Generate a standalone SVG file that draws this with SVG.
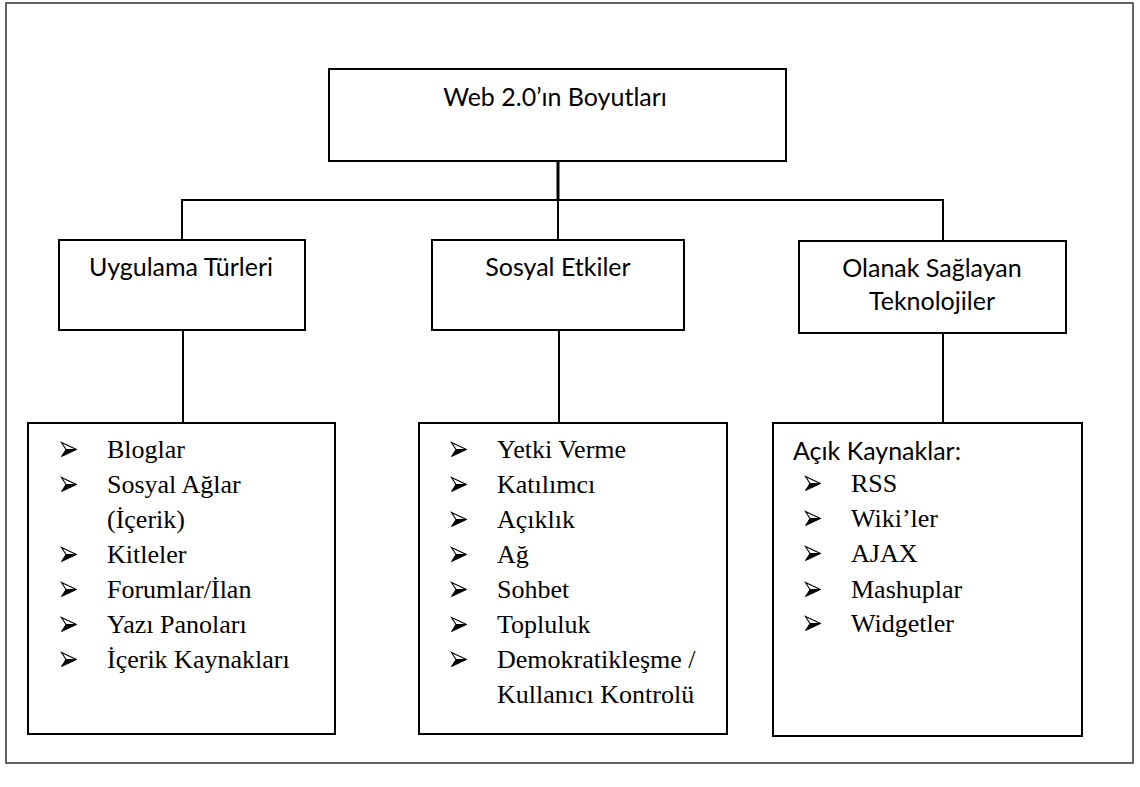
<svg xmlns="http://www.w3.org/2000/svg" width="1140" height="787" viewBox="0 0 1140 787">
<style>
.box{fill:#fff;stroke:#000;stroke-width:2}
.frame{fill:#fff;stroke:#333;stroke-width:1.5}
.conn{stroke:#000;stroke-width:2;fill:none}
.cal{font-family:Lato,"Open Sans","Liberation Sans",sans-serif;font-size:25px;fill:#000}
.tnr{font-family:"Liberation Serif","Times New Roman",serif;font-size:26px;fill:#000}
</style>
<defs>
<symbol id="bullet" viewBox="0 0 16 15" width="16" height="15" overflow="visible">
<polygon points="0.5,0.5 15.5,7.5 5,7.5" fill="#fff" stroke="#000" stroke-width="1.1" stroke-linejoin="miter"/>
<polygon points="5,7.5 15.5,7.5 0.5,14.5" fill="#000" stroke="#000" stroke-width="1"/>
</symbol>
</defs>
<rect class="frame" x="6" y="3" width="1127" height="760"/>
<g id="connectors">
<line class="conn" x1="558" y1="161" x2="558" y2="201" style="stroke-width:3"/>
<polyline class="conn" points="182,240 182,200 943,200 943,241"/>
<line class="conn" x1="558" y1="200" x2="558" y2="240"/>
<line class="conn" x1="183" y1="330" x2="183" y2="423"/>
<line class="conn" x1="559" y1="330" x2="559" y2="423"/>
<line class="conn" x1="943" y1="333" x2="943" y2="423"/>
</g>
<g id="root">
<rect class="box" x="329" y="69" width="457" height="92"/>
<text class="cal" x="555" y="106" text-anchor="middle">Web 2.0’ın Boyutları</text>
</g>
<g id="uygulama">
<rect class="box" x="59" y="240" width="246" height="90"/>
<text class="cal" x="181" y="276" text-anchor="middle">Uygulama Türleri</text>
</g>
<g id="sosyal">
<rect class="box" x="432" y="240" width="252" height="90"/>
<text class="cal" x="558" y="276" text-anchor="middle">Sosyal Etkiler</text>
</g>
<g id="olanak">
<rect class="box" x="799" y="241" width="267" height="92"/>
<text class="cal" x="932" y="277" text-anchor="middle">Olanak Sağlayan</text>
<text class="cal" x="932" y="310" text-anchor="middle">Teknolojiler</text>
</g>
<g id="list-uygulama">
<rect class="box" x="28" y="423" width="307" height="311"/>
<use href="#bullet" x="61" y="442"/><use href="#bullet" x="61" y="477"/><use href="#bullet" x="61" y="547"/><use href="#bullet" x="61" y="582"/><use href="#bullet" x="61" y="617"/><use href="#bullet" x="61" y="652"/>
<text class="tnr" x="107" y="458">Bloglar</text>
<text class="tnr" x="107" y="493">Sosyal Ağlar</text>
<text class="tnr" x="107" y="528">(İçerik)</text>
<text class="tnr" x="107" y="563">Kitleler</text>
<text class="tnr" x="107" y="598">Forumlar/İlan</text>
<text class="tnr" x="107" y="633">Yazı Panoları</text>
<text class="tnr" x="107" y="668">İçerik Kaynakları</text>
</g>
<g id="list-sosyal">
<rect class="box" x="419" y="423" width="308" height="311"/>
<use href="#bullet" x="451" y="442"/><use href="#bullet" x="451" y="477"/><use href="#bullet" x="451" y="512"/><use href="#bullet" x="451" y="547"/><use href="#bullet" x="451" y="582"/><use href="#bullet" x="451" y="617"/><use href="#bullet" x="451" y="652"/>
<text class="tnr" x="497" y="458">Yetki Verme</text>
<text class="tnr" x="497" y="493">Katılımcı</text>
<text class="tnr" x="497" y="528">Açıklık</text>
<text class="tnr" x="497" y="563">Ağ</text>
<text class="tnr" x="497" y="598">Sohbet</text>
<text class="tnr" x="497" y="633">Topluluk</text>
<text class="tnr" x="497" y="668">Demokratikleşme /</text>
<text class="tnr" x="497" y="703">Kullanıcı Kontrolü</text>
</g>
<g id="list-olanak">
<rect class="box" x="773" y="423" width="309" height="313"/>
<text class="cal" x="793" y="460">Açık Kaynaklar:</text>
<use href="#bullet" x="805" y="476"/><use href="#bullet" x="805" y="511"/><use href="#bullet" x="805" y="546"/><use href="#bullet" x="805" y="582"/><use href="#bullet" x="805" y="616"/>
<text class="tnr" x="851" y="492">RSS</text>
<text class="tnr" x="851" y="527">Wiki’ler</text>
<text class="tnr" x="851" y="562">AJAX</text>
<text class="tnr" x="851" y="598">Mashuplar</text>
<text class="tnr" x="851" y="632">Widgetler</text>
</g>
</svg>
